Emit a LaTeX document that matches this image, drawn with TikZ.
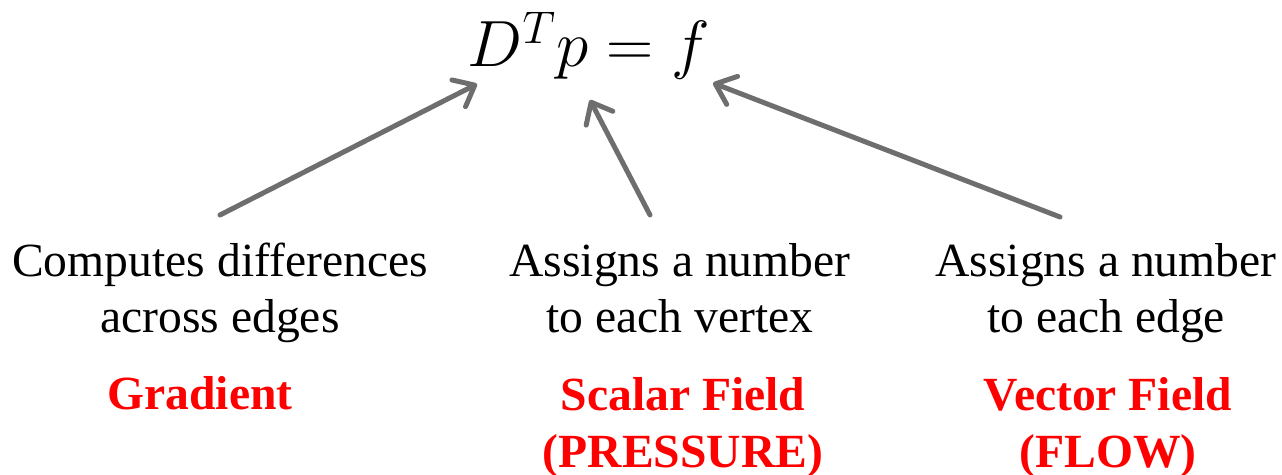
\RequirePackage{fix-cm}
\documentclass[tikz,border=0pt]{standalone}
\usepackage{fontspec}
\setmainfont{Liberation Serif}
\usetikzlibrary{arrows.meta,positioning}
\definecolor{arrowgray}{RGB}{110,110,110}
\tikzset{
  desc/.style    = {align=center, inner sep=0pt, anchor=north,
                    font=\fontsize{23.8}{28}\selectfont},
  tag/.style     = {align=center, inner sep=0pt, text=red,
                    font=\fontsize{23.8}{28.5}\selectfont\bfseries},
  pointer/.style = {-{Straight Barb[length=9pt,width=15pt,round]}, line width=2.5pt,
                    arrowgray, line cap=round},
}

\begin{document}
\begin{tikzpicture}[x=0.5pt,y=-0.5pt]
  \useasboundingbox (0,0) rectangle (1282,475);
  % the equation
  \node[inner sep=0pt,anchor=base] (eq) at (589,67) {\fontsize{32.7}{38}\selectfont $D^Tp=f$};
  \coordinate (dtip) at (477,84);
  \coordinate (ptip) at (590,100);
  \coordinate (ftip) at (713,83);
  % what each symbol does
  \node[desc] (diff) at (220,243) {Computes differences\\across edges};
  \node[desc] (vert) at (680,243) {Assigns a number\\to each vertex};
  \node[desc] (edge) at (1106,243) {Assigns a number\\to each edge};
  % names in red
  \node[tag,anchor=base] (grad) at (200,410) {Gradient};
  \node[tag,anchor=north] (scal) at (683,377) {Scalar Field\\(PRESSURE)};
  \node[tag,anchor=north] (vect) at (1108,377) {Vector Field\\(FLOW)};
  % arrows up to the equation
  \draw[pointer] ([yshift=14pt]diff.north) -- (dtip);
  \draw[pointer] ([xshift=-15pt,yshift=14pt]vert.north) -- (ptip);
  \draw[pointer] ([xshift=-23pt,yshift=13pt]edge.north) -- (ftip);
\end{tikzpicture}
\end{document}
